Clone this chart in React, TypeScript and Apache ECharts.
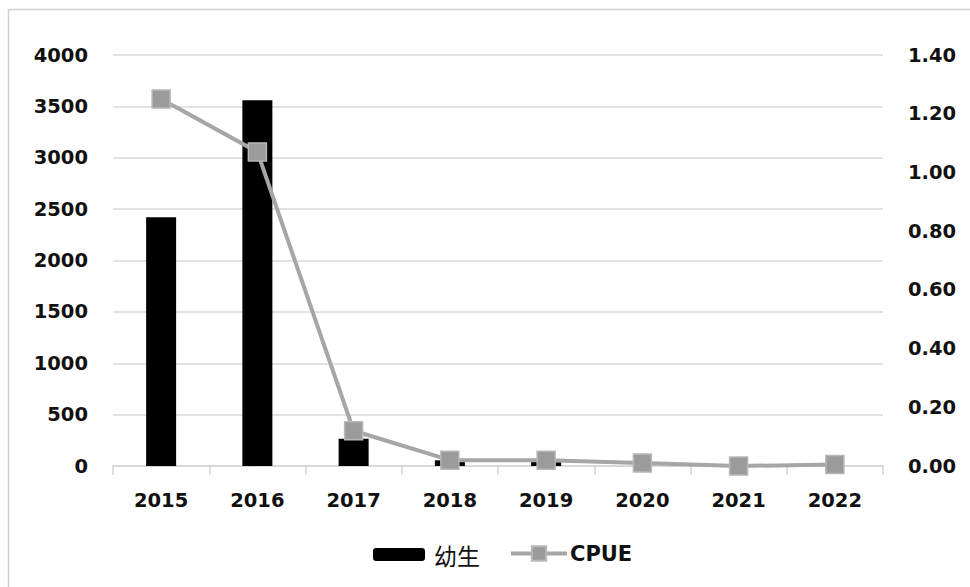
import React, { useEffect, useRef } from "react";
import * as echarts from "echarts";

const years = ["2015", "2016", "2017", "2018", "2019", "2020", "2021", "2022"];
const larvae = [2420, 3560, 265, 55, 45, 0, 0, 0];
const cpue = [1.25, 1.07, 0.12, 0.02, 0.02, 0.01, 0.0, 0.005];

const leftTicks = { min: 0, max: 4000, interval: 500 };
const rightTicks = { min: 0, max: 1.4, interval: 0.2 };

const labelFont = {
  fontFamily: "DejaVu Sans",
  fontWeight: "bold" as const,
  fontSize: 19.5,
  color: "#111",
};

export default function App() {
  const ref = useRef<HTMLDivElement>(null);

  useEffect(() => {
    document.body.style.margin = "0";
    if (!ref.current) return;
    const chart = echarts.init(ref.current, undefined, { renderer: "svg" });
    chart.setOption({
      animation: false,
      backgroundColor: "#ffffff",
      graphic: [
        {
          type: "rect",
          shape: { x: 8.5, y: 9.5, width: 1000, height: 1000 },
          style: { fill: "none", stroke: "#cfcfcf", lineWidth: 1.5 },
          silent: true,
        },
      ],
      grid: { left: 113, right: 87, top: 55, bottom: 121 },
      legend: [
        {
          data: ["幼生"],
          left: 368,
          top: 538,
          itemWidth: 52,
          itemHeight: 13,
          itemGap: 0,
          textStyle: {
            fontFamily: "Noto Sans CJK SC",
            fontSize: 23,
            color: "#111",
            padding: [0, 0, 0, 4],
          },
        },
        {
          data: ["CPUE"],
          left: 504,
          top: 538,
          itemWidth: 56,
          itemHeight: 18,
          lineStyle: { width: 4, color: "#a6a6a6" },
          textStyle: {
            fontFamily: "DejaVu Sans",
            fontWeight: "bold",
            fontSize: 21,
            color: "#111",
            padding: [0, 0, 0, -2],
          },
        },
      ],
      xAxis: {
        type: "category",
        data: years,
        axisLine: { lineStyle: { color: "#d4d4d4", width: 1.5 } },
        axisTick: { show: true, length: 9, lineStyle: { color: "#d4d4d4", width: 1.5 } },
        axisLabel: { ...labelFont, margin: 24 },
      },
      yAxis: [
        {
          type: "value",
          ...leftTicks,
          axisLine: { show: false },
          axisTick: { show: false },
          splitLine: { lineStyle: { color: "#d9d9d9", width: 1.5 } },
          axisLabel: { ...labelFont, margin: 25, formatter: (v: number) => String(v) },
        },
        {
          type: "value",
          ...rightTicks,
          position: "right",
          axisLine: { show: false },
          axisTick: { show: false },
          splitLine: { show: false },
          axisLabel: {
            ...labelFont,
            margin: 25,
            formatter: (v: number) => v.toFixed(2),
          },
        },
      ],
      series: [
        {
          name: "幼生",
          type: "bar",
          data: larvae,
          barWidth: 30,
          itemStyle: { color: "#000000" },
        },
        {
          name: "CPUE",
          type: "line",
          yAxisIndex: 1,
          data: cpue,
          symbol: "rect",
          symbolSize: 18,
          lineStyle: { color: "#a6a6a6", width: 4 },
          itemStyle: { color: "#9b9b9b", borderColor: "#b8b8b8", borderWidth: 1.5 },
        },
      ],
    });
    return () => chart.dispose();
  }, []);

  return <div ref={ref} style={{ width: 970, height: 587 }} />;
}
